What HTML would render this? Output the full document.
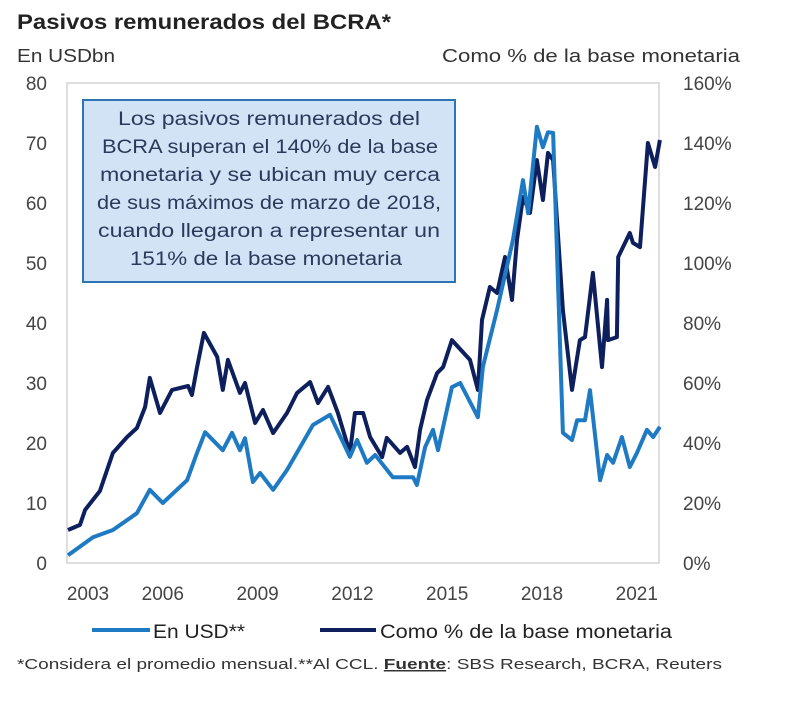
<!DOCTYPE html>
<html><head><meta charset="utf-8"><style>
body{margin:0;background:#fff;width:800px;height:707px;overflow:hidden;font-family:"Liberation Sans",sans-serif}
svg text{font-family:"Liberation Sans",sans-serif}
</style></head><body>
<svg width="800" height="707">
<text x="17" y="29" font-size="21" font-weight="bold" fill="#222" textLength="374" lengthAdjust="spacingAndGlyphs">Pasivos remunerados del BCRA*</text>
<text x="17" y="62" font-size="18" fill="#333" textLength="98" lengthAdjust="spacingAndGlyphs">En USDbn</text>
<text x="442" y="62" font-size="18" fill="#333" textLength="298" lengthAdjust="spacingAndGlyphs">Como % de la base monetaria</text>
<rect x="67" y="83" width="592" height="480" fill="none" stroke="#d4d4d4" stroke-width="1.5"/>
<g id="axes"></g>
<g id="series"></g>
<rect x="83" y="100" width="372" height="182" fill="#d2e3f5" stroke="#2e75b6" stroke-width="2"/>
<g font-size="19" fill="#2b3a5a">
<text x="118" y="125" textLength="302" lengthAdjust="spacingAndGlyphs">Los pasivos remunerados del</text>
<text x="102" y="153" textLength="336" lengthAdjust="spacingAndGlyphs">BCRA superan el 140% de la base</text>
<text x="100" y="181" textLength="340" lengthAdjust="spacingAndGlyphs">monetaria y se ubican muy cerca</text>
<text x="97" y="209" textLength="344" lengthAdjust="spacingAndGlyphs">de sus máximos de marzo de 2018,</text>
<text x="98" y="237" textLength="342" lengthAdjust="spacingAndGlyphs">cuando llegaron a representar un</text>
<text x="130" y="265" textLength="272" lengthAdjust="spacingAndGlyphs">151% de la base monetaria</text>
</g>
<line x1="92" y1="630" x2="150" y2="630" stroke="#1f7ac4" stroke-width="4"/>
<text x="153" y="638" font-size="19" fill="#222" textLength="92" lengthAdjust="spacingAndGlyphs">En USD**</text>
<line x1="320" y1="630" x2="376" y2="630" stroke="#0d1f5c" stroke-width="4"/>
<text x="380" y="638" font-size="19" fill="#222" textLength="292" lengthAdjust="spacingAndGlyphs">Como % de la base monetaria</text>
<text x="17" y="669" font-size="15" fill="#333" textLength="705" lengthAdjust="spacingAndGlyphs">*Considera el promedio mensual.**Al CCL. <tspan font-weight="bold" text-decoration="underline">Fuente</tspan>: SBS Research, BCRA, Reuters</text>
</svg>
<script>
const usdYears=[2003.0,2003.79,2004.42,2005.18,2005.59,2006.0,2006.77,2007.08,2007.34,2007.9,2008.19,2008.44,2008.6,2008.85,2009.08,2009.49,2009.93,2010.75,2011.29,2011.92,2012.15,2012.46,2012.72,2013.28,2013.92,2014.04,2014.3,2014.55,2014.71,2015.15,2015.41,2015.97,2016.13,2016.58,2017.08,2017.4,2017.56,2017.84,2018.03,2018.19,2018.35,2018.66,2018.95,2019.11,2019.36,2019.52,2019.84,2020.06,2020.25,2020.53,2020.78,2021.0,2021.32,2021.52,2021.73];
const usdValues=[1.3,4.3,5.5,8.3,12.2,10,13.8,18.3,21.8,18.8,21.7,18.8,20.8,13.5,15,12.2,15.5,23,24.7,17.7,20.5,16.7,18,14.3,14.3,13,19.3,22.2,18.8,29.3,30,24.3,32.7,42.2,53.8,63.8,58.3,72.7,69.3,71.8,71.7,21.7,20.5,23.8,23.8,28.8,13.8,18,16.7,21,16,18.3,22.2,21,22.7];
const pctYears=[2003.0,2003.38,2003.54,2004.01,2004.42,2004.87,2005.18,2005.44,2005.59,2005.91,2006.29,2006.8,2006.92,2007.08,2007.3,2007.72,2007.9,2008.06,2008.44,2008.6,2008.92,2009.17,2009.49,2009.93,2010.25,2010.66,2010.91,2011.23,2011.54,2011.92,2012.08,2012.34,2012.56,2012.94,2013.09,2013.51,2013.73,2013.98,2014.14,2014.36,2014.68,2014.87,2015.15,2015.72,2015.97,2016.1,2016.35,2016.58,2016.83,2017.05,2017.21,2017.4,2017.62,2017.84,2018.03,2018.19,2018.35,2018.66,2018.95,2019.2,2019.36,2019.61,2019.9,2020.06,2020.09,2020.37,2020.41,2020.78,2020.88,2021.1,2021.35,2021.58,2021.73];
const pctValues=[11,12.7,17.7,24,36.7,42,45,52,61.7,50,57.7,59,56,65,76.7,68.7,57.7,67.7,56.7,60,46.7,51,43.3,50,56.7,60.3,53.3,58.7,50,36.7,50,50,42,35.3,41.7,36.7,38.7,32,44.3,54.3,63.3,65.3,74.3,67.7,57.7,81,92,90,102,87.7,107.7,122,116.7,134.3,121,136.7,134.3,84.3,57.7,74.3,75.3,96.7,65.3,87.7,74.3,75.3,102,110,106.7,105.3,140,132,141];
const xTickLabels=[2003,2006,2009,2012,2015,2018,2021];
const leftTicks=[0,10,20,30,40,50,60,70,80];
const rightTicks=[0,20,40,60,80,100,120,140,160];

const NS='http://www.w3.org/2000/svg';
const x=y=>68+(y-2003)*31.6;
const yL=v=>563-v*6;
const yR=v=>563-v*3;
const axes=document.getElementById('axes'), ser=document.getElementById('series');
function mk(tag,attrs,parent){const e=document.createElementNS(NS,tag);for(const k in attrs)e.setAttribute(k,attrs[k]);parent.appendChild(e);return e;}
leftTicks.forEach(v=>{const t=mk('text',{x:47,y:yL(v)+7,'font-size':19,fill:'#444','text-anchor':'end'},axes);t.textContent=v;

});
rightTicks.forEach(v=>{const t=mk('text',{x:683,y:yR(v)+7,'font-size':19,fill:'#444'},axes);t.textContent=v+'%';

});
xTickLabels.forEach(v=>{const cx=v===2003?88:x(v);const t=mk('text',{x:cx,y:600,'font-size':19,fill:'#444','text-anchor':'middle'},axes);t.textContent=v;

});
const pPct=mk('path',{d:pctYears.map((d,i)=>(i?'L':'M')+x(d).toFixed(1)+','+yR(pctValues[i]).toFixed(1)).join(''),fill:'none',stroke:'#0d1f5c','stroke-width':4,'stroke-linejoin':'round'},ser);


const pUsd=mk('path',{d:usdYears.map((d,i)=>(i?'L':'M')+x(d).toFixed(1)+','+yL(usdValues[i]).toFixed(1)).join(''),fill:'none',stroke:'#1f7ac4','stroke-width':4,'stroke-linejoin':'round'},ser);


</script>
</body></html>
